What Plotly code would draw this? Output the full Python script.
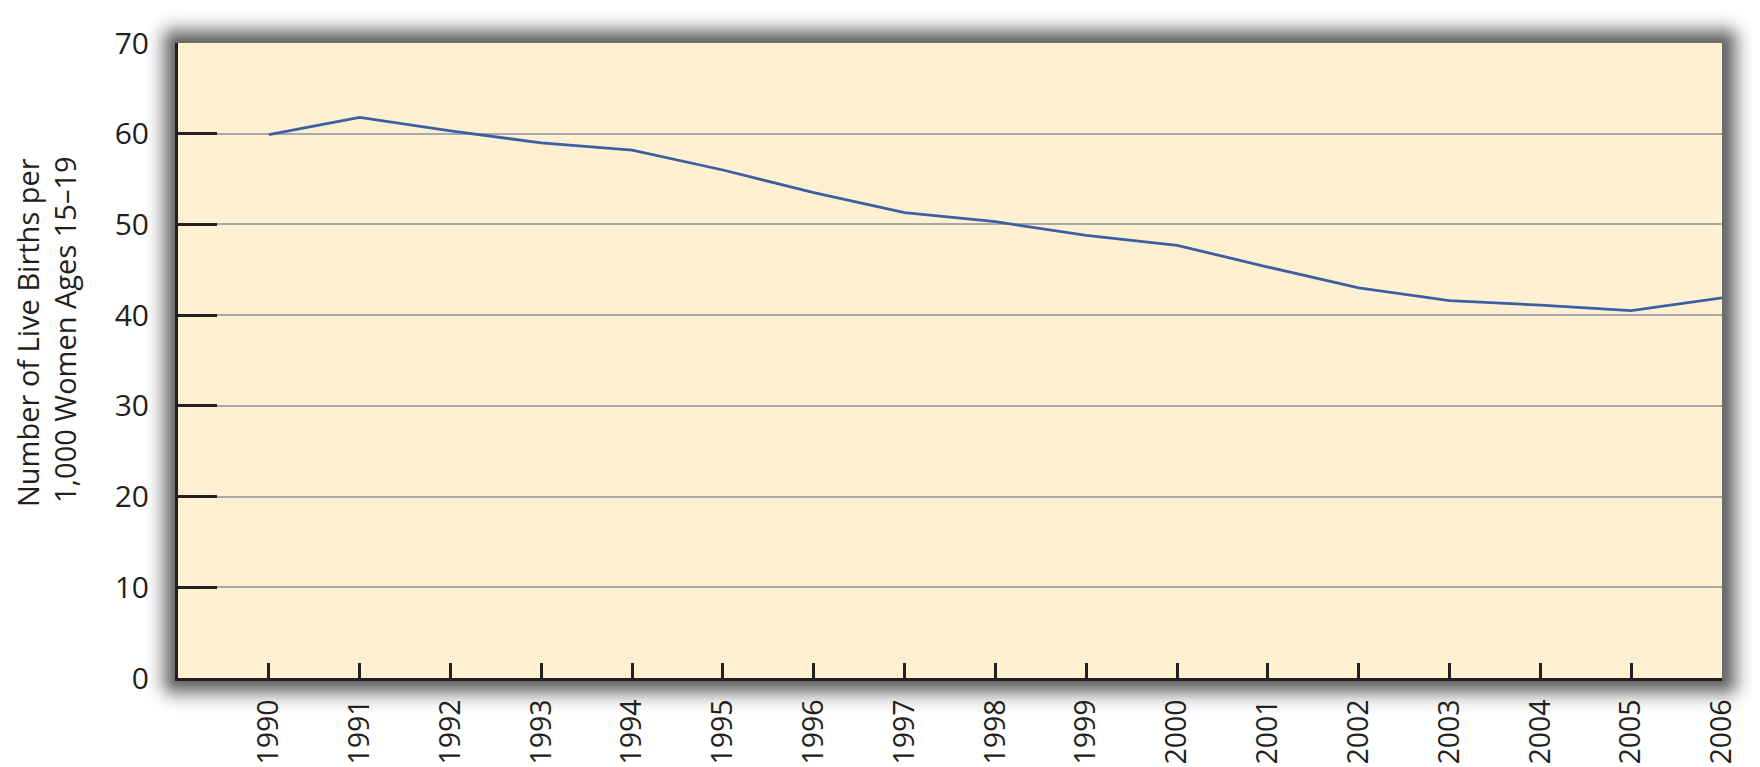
import math
import plotly.graph_objects as go

years = [1990, 1991, 1992, 1993, 1994, 1995, 1996, 1997, 1998, 1999,
         2000, 2001, 2002, 2003, 2004, 2005, 2006]
births = [59.9, 61.8, 60.3, 59.0, 58.2, 56.0, 53.5, 51.3, 50.3, 48.8,
          47.7, 45.3, 43.0, 41.6, 41.1, 40.5, 41.9]
y_ticks = [0, 10, 20, 30, 40, 50, 60, 70]
y_title_lines = ["Number of Live Births per", "1,000 Women Ages 15–19"]

# the page body adds an 8px offset; lay out in figure coordinates
OFF = 8
W, H = 1760 - OFF, 767 - OFF
L, R, T, B = 178 - OFF, 1722 - OFF, 43 - OFF, 678 - OFF
PW, PH = R - L, B - T

def px(xp):
    return (xp - L) / PW

def py(yp):
    return (B - yp) / PH

def rounded_rect(x0, y0, x1, y1, r):
    pts = [
        f"M {px(x0 + r)},{py(y0)}",
        f"L {px(x1 - r)},{py(y0)}",
        f"Q {px(x1)},{py(y0)} {px(x1)},{py(y0 + r)}",
        f"L {px(x1)},{py(y1 - r)}",
        f"Q {px(x1)},{py(y1)} {px(x1 - r)},{py(y1)}",
        f"L {px(x0 + r)},{py(y1)}",
        f"Q {px(x0)},{py(y1)} {px(x0)},{py(y1 - r)}",
        f"L {px(x0)},{py(y0 + r)}",
        f"Q {px(x0)},{py(y0)} {px(x0 + r)},{py(y0)}",
        "Z",
    ]
    return " ".join(pts)

# soft drop shadow built from stacked translucent rounded rectangles
def target(d):
    return 0.55 * math.exp(-(d / 17.0) ** 2) if d < 34 else 0.0

shapes = []
for e in range(34, 0, -1):
    outer = 1 - target(e + 0.5)
    inner = 1 - target(e - 0.5)
    a = max(0.0, 1 - inner / outer)
    shapes.append(dict(
        type="path", xref="paper", yref="paper", layer="below",
        path=rounded_rect(L - e, T - e + 1, R + e, B + e + 1, e + 3),
        fillcolor=f"rgba(0,0,0,{a:.4f})", line=dict(width=0),
    ))
shapes.append(dict(
    type="rect", xref="paper", yref="paper", layer="below",
    x0=0, x1=1, y0=0, y1=1, fillcolor="#fef0d0", line=dict(width=0),
))

fig = go.Figure()
fig.add_trace(go.Scatter(
    x=years, y=births, mode="lines",
    line=dict(color="#3c5fa4", width=2.8),
    hoverinfo="x+y", showlegend=False,
))

font_family = "Open Sans"
txt = "#231f20"

title_pos = [(27 - OFF, 333 - OFF), (65 - OFF, 330 - OFF)]
annotations = [
    dict(text=t, xref="paper", yref="paper",
         x=px(xx), y=py(yy), xanchor="center", yanchor="middle",
         textangle=-90, showarrow=False,
         font=dict(family=font_family, size=29, color=txt))
    for t, (xx, yy) in zip(y_title_lines, title_pos)
]

fig.update_layout(
    width=W, height=H,
    margin=dict(l=L, r=W - R, t=T, b=H - B, pad=0, autoexpand=False),
    paper_bgcolor="white",
    plot_bgcolor="rgba(0,0,0,0)",
    font=dict(family=font_family, size=30, color=txt),
    shapes=shapes,
    annotations=annotations,
    xaxis=dict(
        range=[1989, 2006], tickmode="array", tickvals=years,
        ticktext=[str(y) for y in years], tickangle=-90,
        ticks="inside", ticklen=15, tickwidth=2.5, tickcolor=txt,
        showline=True, linecolor=txt, linewidth=3,
        showgrid=False, zeroline=False, automargin=False,
        tickfont=dict(family=font_family, size=28.5, color=txt),
        ticklabelstandoff=7,
    ),
    yaxis=dict(
        range=[0, 70], tickmode="array", tickvals=y_ticks,
        ticks="inside", ticklen=39, tickwidth=2.5, tickcolor=txt,
        showline=True, linecolor=txt, linewidth=3,
        showgrid=True, gridcolor="#a7a9ac", gridwidth=2,
        zeroline=False, automargin=False,
        tickfont=dict(family=font_family, size=30, color=txt),
        ticklabelstandoff=20,
    ),
)

fig.write_html("out.html")
